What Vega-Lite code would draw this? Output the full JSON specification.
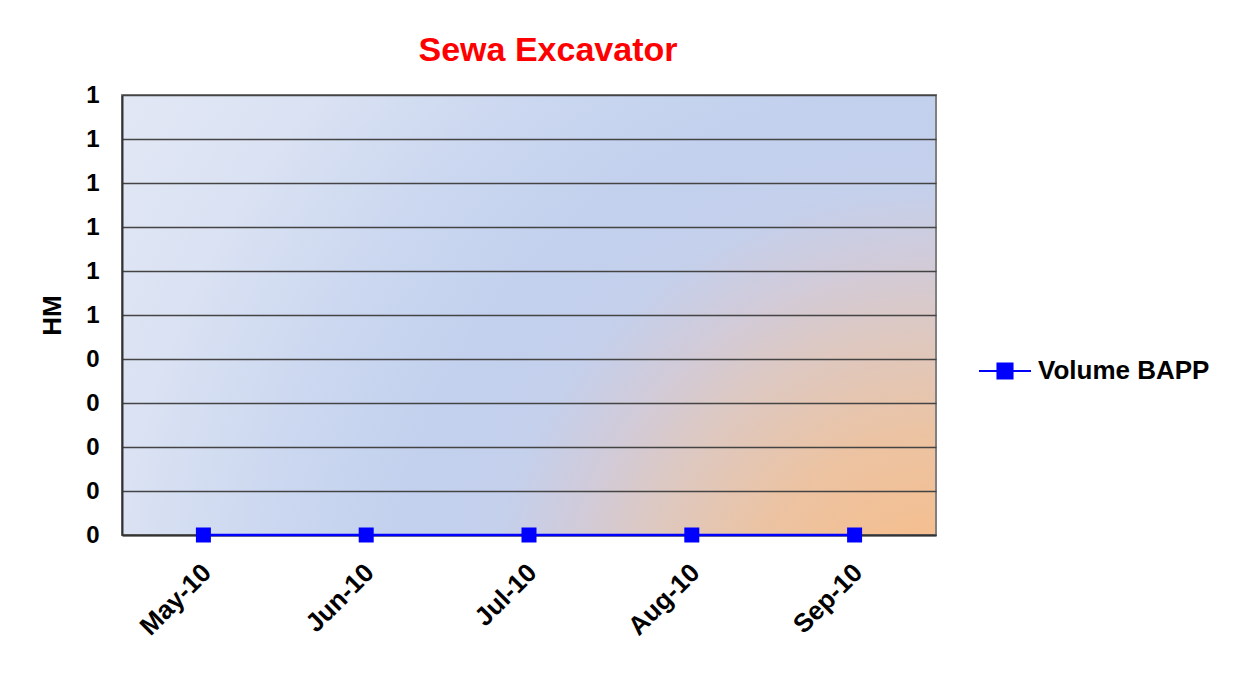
{
  "$schema": "https://vega.github.io/schema/vega-lite/v6.json",
  "width": 814,
  "height": 440,
  "autosize": {"type": "none"},
  "padding": {"left": 122, "top": 95, "right": 299, "bottom": 140},
  "background": "white",
  "title": {
    "text": "Sewa Excavator",
    "color": "#ff0000",
    "font": "Liberation Sans",
    "fontSize": 34,
    "fontWeight": "bold",
    "anchor": "middle",
    "dx": 19,
    "offset": 15
  },
  "config": {
    "font": "Liberation Sans",
    "view": {
      "stroke": "#808080",
      "strokeWidth": 2,
      "fill": {
        "gradient": "radial",
        "x1": 1, "y1": 0.893, "r1": 0,
        "x2": 1, "y2": 0.893, "r2": 1.23,
        "stops": [
          {"offset": 0, "color": "#f9ba84"},
          {"offset": 0.1, "color": "#f4bf91"},
          {"offset": 0.2, "color": "#ecc3a2"},
          {"offset": 0.3, "color": "#dec8c0"},
          {"offset": 0.38, "color": "#d0cbdb"},
          {"offset": 0.45, "color": "#c4d0ec"},
          {"offset": 0.55, "color": "#c3d1ee"},
          {"offset": 0.68, "color": "#ccd8f0"},
          {"offset": 0.82, "color": "#dae2f3"},
          {"offset": 1, "color": "#e3e8f4"}
        ]
      }
    }
  },
  "data": {
    "values": [
      {"month": "May-10", "value": 0, "series": "Volume BAPP"},
      {"month": "Jun-10", "value": 0, "series": "Volume BAPP"},
      {"month": "Jul-10", "value": 0, "series": "Volume BAPP"},
      {"month": "Aug-10", "value": 0, "series": "Volume BAPP"},
      {"month": "Sep-10", "value": 0, "series": "Volume BAPP"}
    ]
  },
  "encoding": {
    "x": {
      "field": "month",
      "type": "ordinal",
      "sort": null,
      "scale": {"type": "point", "padding": 0.5},
      "axis": {
        "title": null,
        "labelAngle": -45,
        "labelFontSize": 26,
        "labelFontWeight": "bold",
        "labelColor": "#000000",
        "labelPadding": 24,
        "labelOffset": -6,
        "labelOverlap": false,
        "ticks": false,
        "domain": true,
        "domainColor": "#333333",
        "domainWidth": 2,
        "grid": false
      }
    },
    "y": {
      "field": "value",
      "type": "quantitative",
      "scale": {"domain": [0, 1], "nice": false},
      "axis": {
        "title": "HM",
        "titleFontSize": 26,
        "titleFontWeight": "bold",
        "titleColor": "#000000",
        "titlePadding": 20,
        "values": [0, 0.1, 0.2, 0.3, 0.4, 0.5, 0.6, 0.7, 0.8, 0.9, 1],
        "tickCount": 11,
        "labelExpr": "'' + round(datum.value)",
        "labelOverlap": false,
        "labelFontSize": 24,
        "labelFontWeight": "bold",
        "labelColor": "#000000",
        "labelPadding": 23,
        "ticks": false,
        "domain": true,
        "domainColor": "#333333",
        "domainWidth": 2,
        "grid": true,
        "gridColor": "#444444",
        "gridWidth": 1.3
      }
    },
    "color": {
      "field": "series",
      "type": "nominal",
      "scale": {"range": ["#0000ff"]},
      "legend": {
        "title": null,
        "orient": "none",
        "legendX": 856,
        "legendY": 249,
        "labelFontSize": 26,
        "labelFontWeight": "bold",
        "labelColor": "#000000",
        "labelOffset": 6,
        "labelLimit": 400,
        "symbolType": "M -1 0 L 1 0 M -0.29 -0.29 L 0.29 -0.29 L 0.29 0.29 L -0.29 0.29 Z",
        "symbolSize": 2704,
        "symbolStrokeWidth": 2,
        "symbolFillColor": "#0000ff",
        "symbolStrokeColor": "#0000ff"
      }
    }
  },
  "layer": [
    {"mark": {"type": "line", "strokeWidth": 2.5, "clip": false}},
    {"mark": {"type": "point", "shape": "square", "filled": true, "size": 225, "opacity": 1, "clip": false}}
  ]
}
